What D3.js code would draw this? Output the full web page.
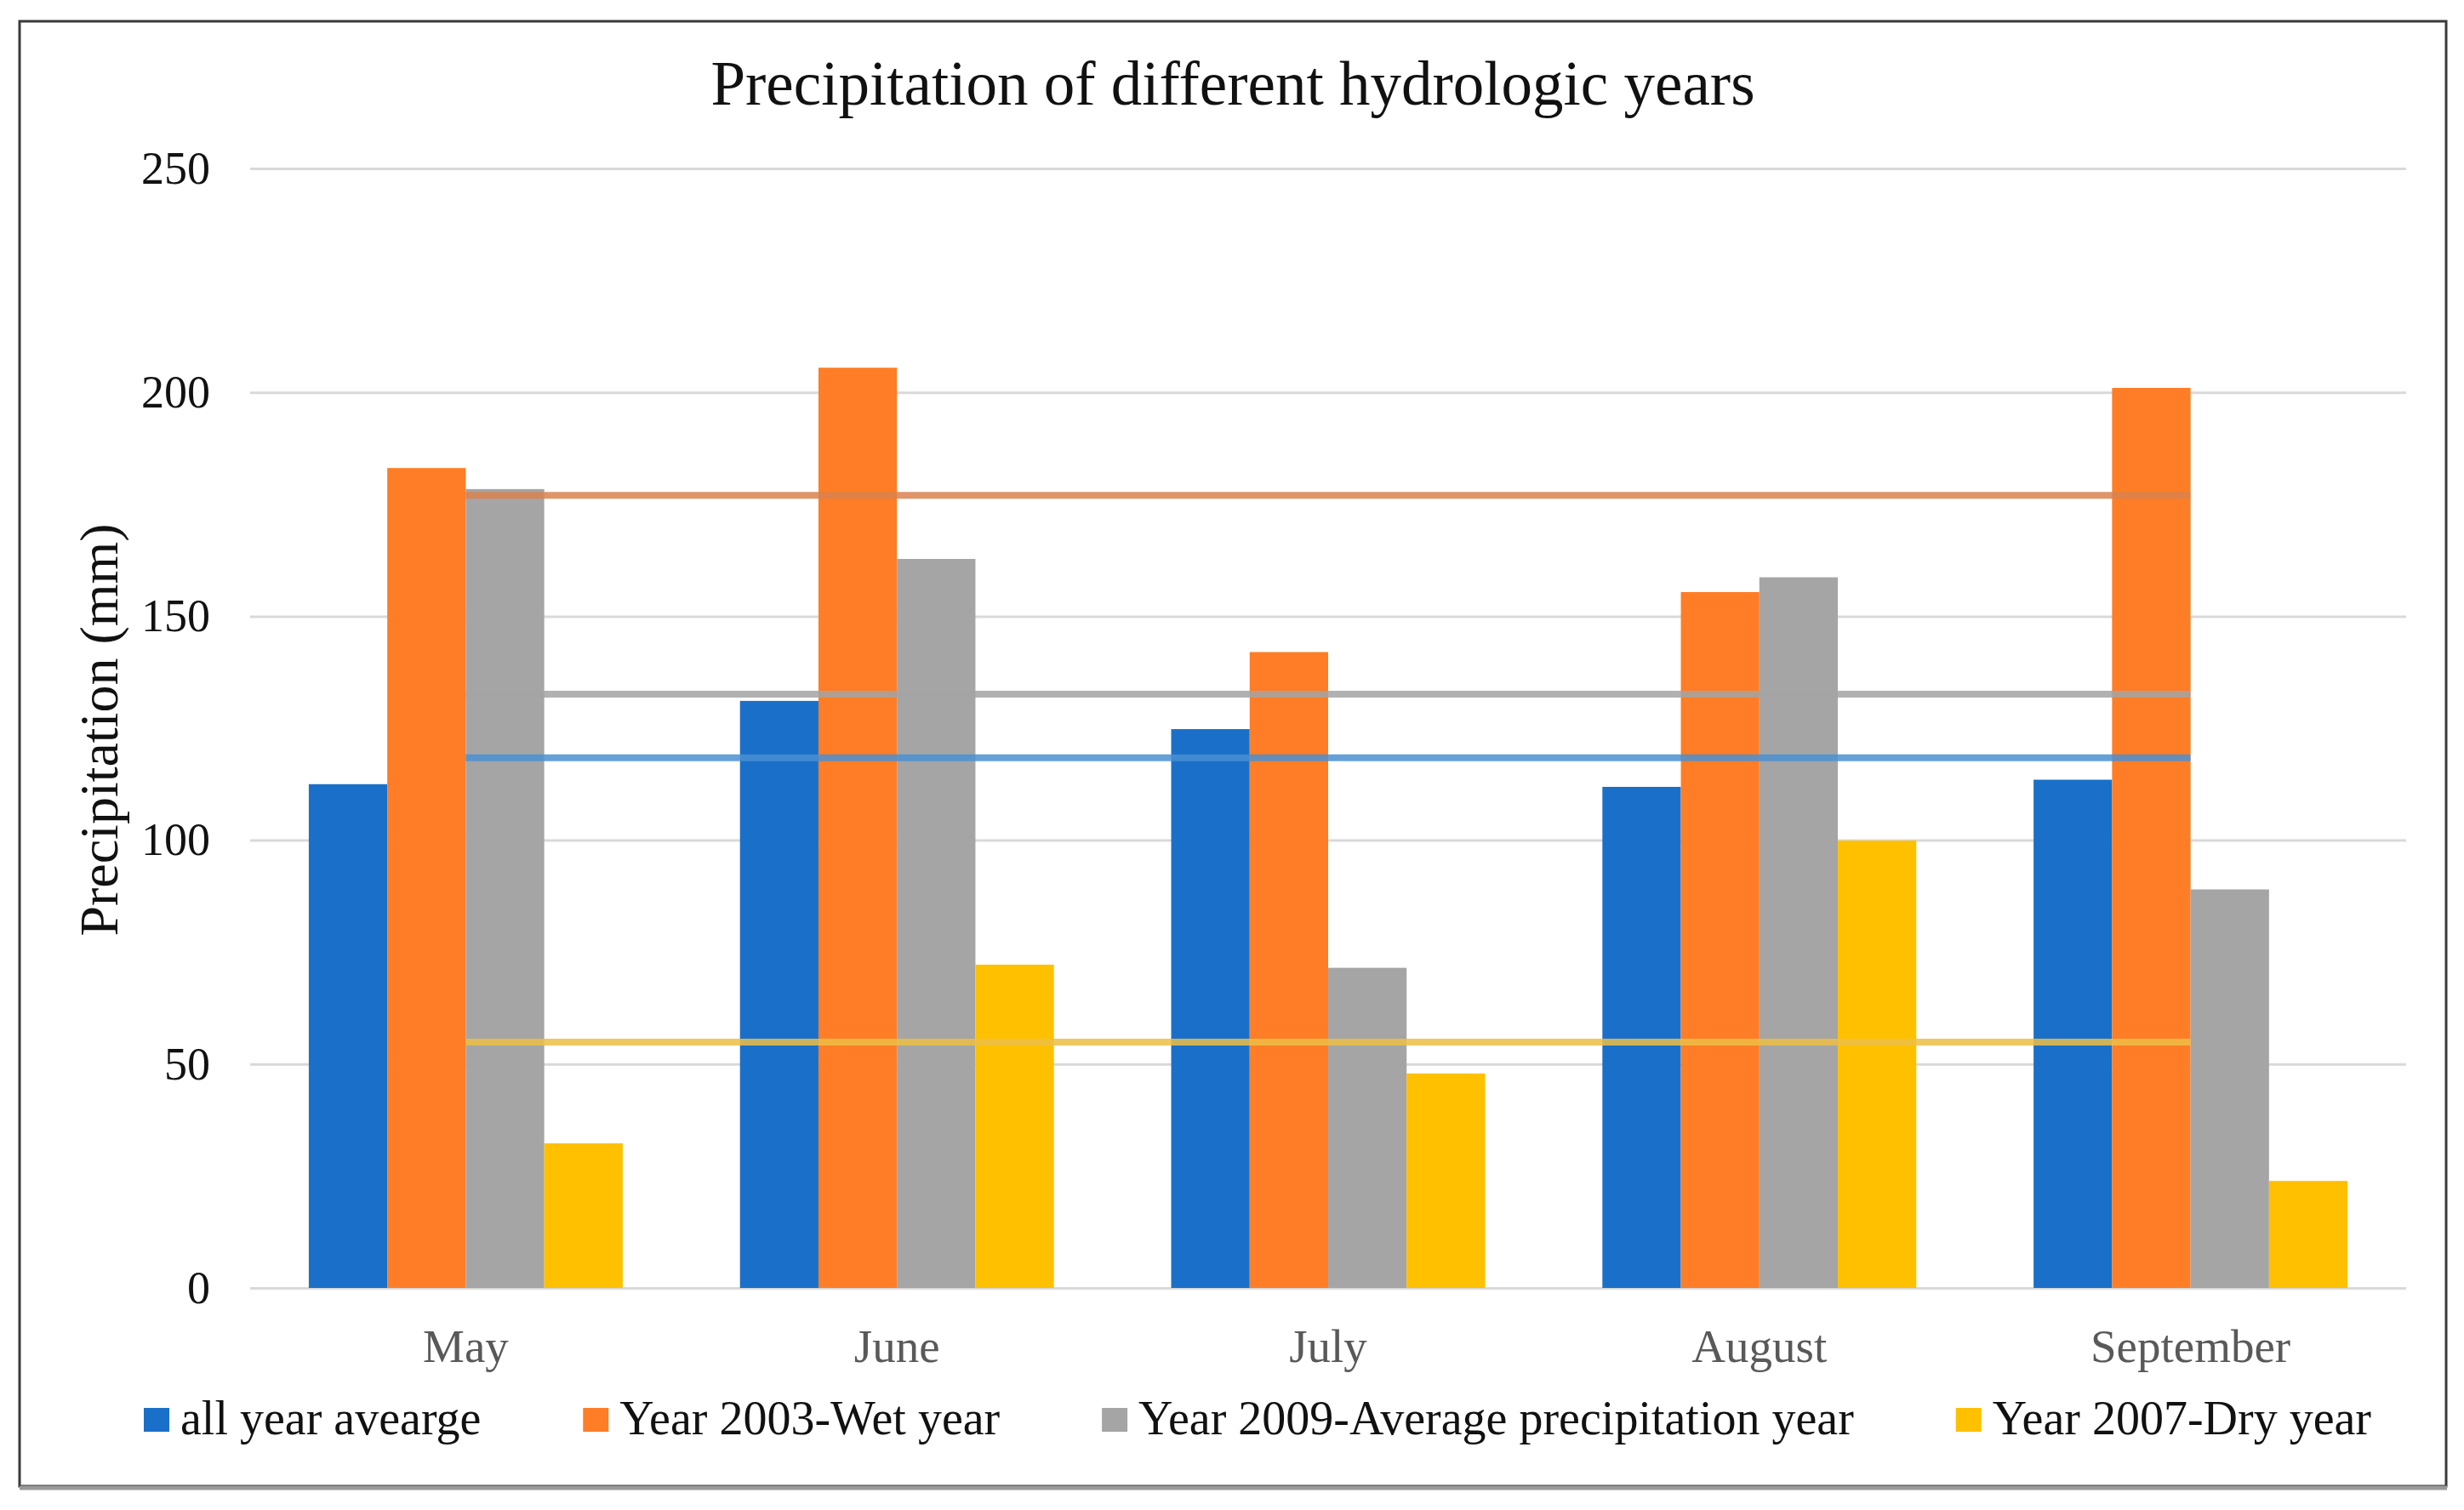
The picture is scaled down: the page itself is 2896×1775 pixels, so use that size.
<!DOCTYPE html>
<html>
<head>
<meta charset="utf-8">
<script src="https://cdn.jsdelivr.net/npm/d3@7"></script>
<style>
  html, body { margin: 0; padding: 0; background: #fff; }
  svg { display: block; }
  text { font-family: "Liberation Serif", "Times New Roman", serif; }
</style>
</head>
<body>
<svg id="chart" width="2896" height="1775"></svg>
<script>
// data
var months = ["May", "June", "July", "August", "September"];
var seriesNames = ["all year avearge", "Year 2003-Wet year", "Year 2009-Average precipitation year", "Year 2007-Dry year"];
var allYearAverage = [112.5, 131.1, 124.8, 111.9, 113.5];
var wetYear2003 = [183.1, 205.5, 142.0, 155.4, 201.0];
var avgYear2009 = [178.4, 162.8, 71.5, 158.7, 89.0];
var dryYear2007 = [32.3, 72.2, 47.9, 99.9, 23.9];
// the flat reference lines (mean of each series)
var seriesMeans = [118.4, 177.0, 132.6, 54.9];
var yTicks = [0, 50, 100, 150, 200, 250];

var barColors = ["#1A70C8", "#FE7D26", "#A5A5A5", "#FFC000"];
var lineColors = ["#4A8FD2", "#D9814F", "#A3A3A3", "#EDBE45"];

var svg = d3.select("#chart");
var margin = { left: 294, right: 2828, top: 198, bottom: 1514 };

var x = d3.scaleBand()
  .domain(months)
  .range([margin.left, margin.right]);

var xInner = d3.scaleBand()
  .domain(d3.range(4))
  .range([x.bandwidth() * 0.136, x.bandwidth() * 0.864]);

var y = d3.scaleLinear()
  .domain([0, 250])
  .range([margin.bottom, margin.top]);

var values = [allYearAverage, wetYear2003, avgYear2009, dryYear2007];

// frame
svg.append("rect")
  .attr("x", 23).attr("y", 25)
  .attr("width", 2852).attr("height", 1722)
  .attr("fill", "#fff")
  .attr("stroke", "#3a3a3a")
  .attr("stroke-width", 3);
svg.append("line")
  .attr("x1", 23).attr("x2", 2876)
  .attr("y1", 1749).attr("y2", 1749)
  .attr("stroke", "#9a9a9a")
  .attr("stroke-width", 5);

// title
svg.append("text")
  .attr("x", 1449).attr("y", 123)
  .attr("text-anchor", "middle")
  .attr("font-size", 73)
  .attr("fill", "#111")
  .text("Precipitation of different hydrologic years");

// gridlines
var grid = svg.append("g")
  .attr("transform", "translate(" + margin.left + ",0)")
  .call(d3.axisLeft(y).tickValues(yTicks).tickSize(-(margin.right - margin.left)).tickFormat(""));
grid.select(".domain").remove();
grid.selectAll("line").attr("stroke", "#D9D9D9").attr("stroke-width", 3);

// y axis labels
var yAxis = svg.append("g")
  .attr("transform", "translate(247,0)")
  .call(d3.axisLeft(y).tickValues(yTicks).tickSize(0).tickPadding(0));
yAxis.select(".domain").remove();
yAxis.selectAll("text")
  .attr("font-family", "Liberation Serif")
  .attr("font-size", 54)
  .attr("fill", "#111");

// y title
svg.append("text")
  .attr("transform", "translate(138,858) rotate(-90)")
  .attr("text-anchor", "middle")
  .attr("font-size", 64)
  .attr("fill", "#111")
  .text("Precipitation (mm)");

// bars
var groups = svg.append("g").selectAll("g")
  .data(months)
  .enter().append("g")
  .attr("transform", function (d) { return "translate(" + x(d) + ",0)"; });

groups.selectAll("rect")
  .data(function (d, i) { return values.map(function (s, k) { return { k: k, v: s[i] }; }); })
  .enter().append("rect")
  .attr("x", function (d) { return xInner(d.k); })
  .attr("width", xInner.bandwidth())
  .attr("y", function (d) { return y(d.v); })
  .attr("height", function (d) { return y(0) - y(d.v); })
  .attr("fill", function (d) { return barColors[d.k]; });

// mean lines across months
var line = d3.line()
  .x(function (d) { return x(d.m) + x.bandwidth() / 2; })
  .y(function (d) { return y(d.v); });

svg.append("g").selectAll("path")
  .data(seriesMeans.map(function (v, k) {
    return { k: k, pts: months.map(function (m) { return { m: m, v: v }; }) };
  }))
  .enter().append("path")
  .attr("d", function (d) { return line(d.pts); })
  .attr("fill", "none")
  .attr("stroke", function (d) { return lineColors[d.k]; })
  .attr("stroke-opacity", 0.85)
  .attr("stroke-width", 8);

// month labels
svg.append("g").selectAll("text")
  .data(months)
  .enter().append("text")
  .attr("x", function (d) { return x(d) + x.bandwidth() / 2; })
  .attr("y", 1601)
  .attr("text-anchor", "middle")
  .attr("font-size", 55)
  .attr("fill", "#595959")
  .text(function (d) { return d; });

// legend, spread between the left and right ends seen in the reference
var legend = svg.append("g");
var items = legend.selectAll("g")
  .data(seriesNames)
  .enter().append("g");
items.append("rect")
  .attr("width", 30).attr("height", 28)
  .attr("y", 1655)
  .attr("fill", function (d, i) { return barColors[i]; });
items.append("text")
  .attr("x", 43).attr("y", 1686)
  .attr("font-size", 56)
  .attr("fill", "#111")
  .text(function (d) { return d; });

var legendStart = 169, legendEnd = 2787;
var widths = [];
items.each(function () {
  widths.push(43 + this.querySelector("text").getComputedTextLength());
});
var gap = (legendEnd - legendStart - d3.sum(widths)) / (widths.length - 1);
var pos = [], cursor = legendStart;
widths.forEach(function (w) { pos.push(cursor); cursor += w + gap; });
items.attr("transform", function (d, i) { return "translate(" + pos[i] + ",0)"; });
</script>
</body>
</html>
